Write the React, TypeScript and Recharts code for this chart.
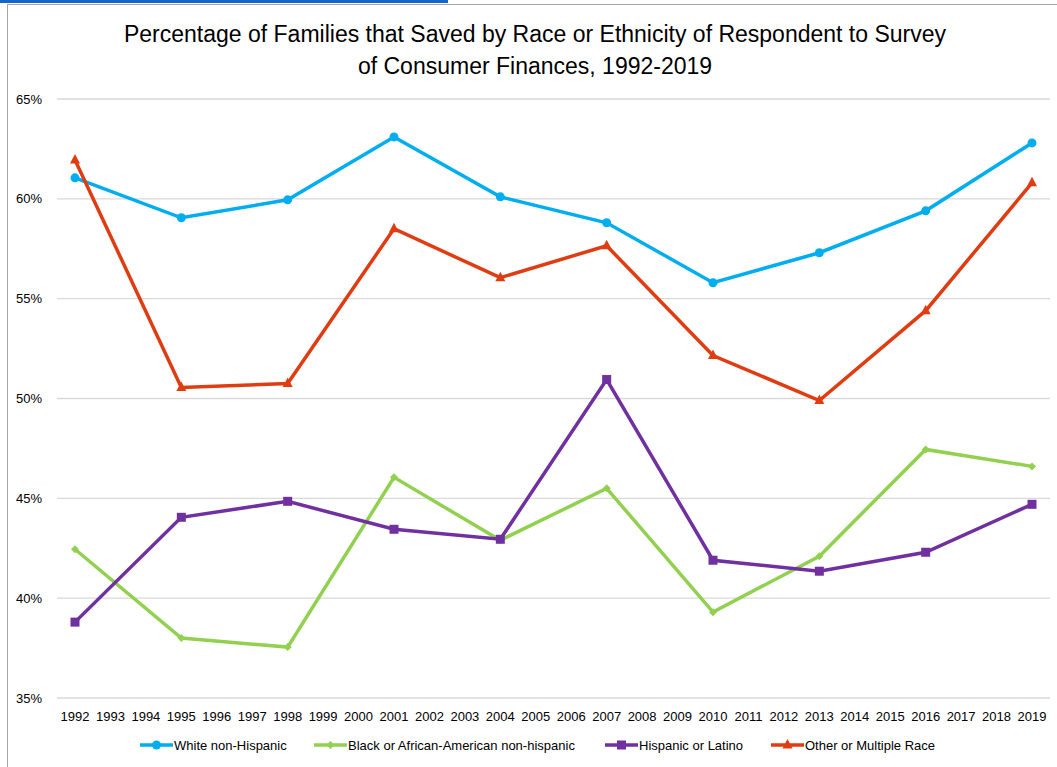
import React from 'react'
import { LineChart, Line, XAxis, YAxis, CartesianGrid } from 'recharts'

const years = Array.from({ length: 28 }, (_, i) => String(1992 + i))
const surveyYears = ['1992', '1995', '1998', '2001', '2004', '2007', '2010', '2013', '2016', '2019']

const white = [61.05, 59.05, 59.95, 63.1, 60.1, 58.8, 55.8, 57.3, 59.4, 62.8]
const black = [42.45, 38.0, 37.55, 46.05, 42.9, 45.5, 39.3, 42.1, 47.45, 46.6]
const hispanic = [38.8, 44.05, 44.85, 43.45, 42.95, 50.95, 41.9, 41.35, 42.3, 44.7]
const other = [61.95, 50.55, 50.75, 58.5, 56.05, 57.65, 52.15, 49.9, 54.4, 60.8]

const yTicks = [35, 40, 45, 50, 55, 60, 65]

const COLORS = {
  white: '#00AEEF',
  black: '#92D050',
  hispanic: '#7030A0',
  other: '#E03C12',
}

const data = years.map((year) => {
  const i = surveyYears.indexOf(year)
  return {
    year,
    white: i >= 0 ? white[i] : null,
    black: i >= 0 ? black[i] : null,
    hispanic: i >= 0 ? hispanic[i] : null,
    other: i >= 0 ? other[i] : null,
  }
})

type Shape = 'circle' | 'diamond' | 'square' | 'triangle'

function Marker({ cx, cy, shape, color }: { cx: number; cy: number; shape: Shape; color: string }) {
  if (cx == null || cy == null) return null
  if (shape === 'circle') return <circle cx={cx} cy={cy} r={4.5} fill={color} />
  if (shape === 'diamond')
    return <polygon points={`${cx},${cy - 4} ${cx + 4},${cy} ${cx},${cy + 4} ${cx - 4},${cy}`} fill={color} />
  if (shape === 'square') return <rect x={cx - 4.5} y={cy - 4.5} width={9} height={9} fill={color} />
  return <polygon points={`${cx},${cy - 6} ${cx + 5},${cy + 3.5} ${cx - 5},${cy + 3.5}`} fill={color} />
}

const dotFor = (shape: Shape, color: string) => (props: any) => {
  if (props.value == null) return <g key={props.index} />
  return <Marker key={props.index} cx={props.cx} cy={props.cy} shape={shape} color={color} />
}

const legendItems: { label: string; shape: Shape; color: string; left: number }[] = [
  { label: 'White non-Hispanic', shape: 'circle', color: COLORS.white, left: 140 },
  { label: 'Black or African-American non-hispanic', shape: 'diamond', color: COLORS.black, left: 314 },
  { label: 'Hispanic or Latino', shape: 'square', color: COLORS.hispanic, left: 605 },
  { label: 'Other or Multiple Race', shape: 'triangle', color: COLORS.other, left: 771 },
]

export default function App() {
  const font = '"Liberation Sans", Arial, sans-serif'
  return (
    <div style={{ position: 'absolute', left: 0, top: 0, width: 1057, height: 767, background: '#fff', overflow: 'hidden', fontFamily: font }}>
      <div style={{ position: 'absolute', left: 0, top: 0, width: 448, height: 3, background: '#1467C8' }} />
      <div style={{ position: 'absolute', left: 7, top: 4, width: 1100, height: 800, borderTop: '1px solid #a6a6a6', borderLeft: '1px solid #a6a6a6' }} />
      <div
        style={{
          position: 'absolute',
          left: 0,
          width: 1070,
          top: 18,
          textAlign: 'center',
          fontSize: 23,
          lineHeight: '32px',
          color: '#000',
        }}
      >
        Percentage of Families that Saved by Race or Ethnicity of Respondent to Survey
        <br />
        of Consumer Finances, 1992-2019
      </div>
      <div style={{ position: 'absolute', left: 0, top: 0 }}>
        <LineChart width={1057} height={767} data={data} margin={{ top: 99, right: 7, left: 0, bottom: 39 }}>
          <CartesianGrid vertical={false} stroke="#d9d9d9" strokeWidth={1.3} />
          <XAxis
            dataKey="year"
            axisLine={false}
            tickLine={false}
            interval={0}
            padding={{ left: 18, right: 18 }}
            tickMargin={8}
            height={30}
            tick={{ fill: '#000', fontSize: 13, fontFamily: font }}
          />
          <YAxis
            domain={[35, 65]}
            ticks={yTicks}
            width={57}
            axisLine={false}
            tickLine={false}
            tickMargin={9}
            tickFormatter={(v) => `${v}%`}
            tick={{ fill: '#000', fontSize: 13, fontFamily: font }}
          />
          <Line dataKey="white" stroke={COLORS.white} strokeWidth={3.5} connectNulls dot={dotFor('circle', COLORS.white)} activeDot={false} isAnimationActive={false} />
          <Line dataKey="black" stroke={COLORS.black} strokeWidth={3.5} connectNulls dot={dotFor('diamond', COLORS.black)} activeDot={false} isAnimationActive={false} />
          <Line dataKey="hispanic" stroke={COLORS.hispanic} strokeWidth={3.5} connectNulls dot={dotFor('square', COLORS.hispanic)} activeDot={false} isAnimationActive={false} />
          <Line dataKey="other" stroke={COLORS.other} strokeWidth={3.5} connectNulls dot={dotFor('triangle', COLORS.other)} activeDot={false} isAnimationActive={false} />
        </LineChart>
      </div>
      {legendItems.map((item) => (
        <div key={item.label} style={{ position: 'absolute', left: item.left, top: 736, height: 18, display: 'flex', alignItems: 'center', fontSize: 13, color: '#000' }}>
          <svg width={33} height={18} style={{ marginRight: 1 }}>
            <line x1={0} y1={9} x2={33} y2={9} stroke={item.color} strokeWidth={3.5} />
            <Marker cx={16.5} cy={9} shape={item.shape} color={item.color} />
          </svg>
          <span>{item.label}</span>
        </div>
      ))}
    </div>
  )
}
